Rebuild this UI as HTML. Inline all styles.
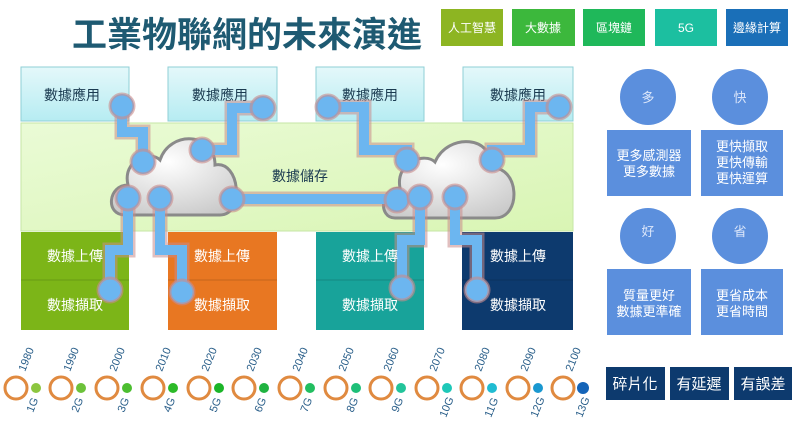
<!DOCTYPE html>
<html><head><meta charset="utf-8"><style>
body{margin:0;width:800px;height:429px;background:#fff;overflow:hidden;font-family:"Liberation Sans","Noto Sans CJK TC",sans-serif;}
</style></head><body>
<svg width="800" height="429" viewBox="0 0 800 429" xmlns="http://www.w3.org/2000/svg" style="position:absolute;left:0;top:0;font-family:'Liberation Sans','Noto Sans CJK TC',sans-serif">
<defs>
<linearGradient id="app" x1="0" y1="0" x2="0" y2="1"><stop offset="0" stop-color="#e4f8fa"/><stop offset="1" stop-color="#b6ecf2"/></linearGradient>
<linearGradient id="band" x1="0" y1="0" x2="1" y2="1"><stop offset="0" stop-color="#eafbd6"/><stop offset="1" stop-color="#d9f5b4"/></linearGradient>
<radialGradient id="cl" cx="0.45" cy="0.3" r="0.8"><stop offset="0" stop-color="#ffffff"/><stop offset="1" stop-color="#c8c8c8"/></radialGradient>
</defs>
<text x="72" y="47" font-size="35" font-weight="bold" fill="#1e5a72">工業物聯網的未來演進</text>
<g font-size="12" fill="#fff" text-anchor="middle">
<rect x="441" y="9" width="62" height="37" fill="#8db522"/><text x="472" y="32">人工智慧</text>
<rect x="512" y="9" width="63" height="37" fill="#3cb83c"/><text x="543" y="32">大數據</text>
<rect x="583" y="9" width="62" height="37" fill="#1fb85a"/><text x="614" y="32">區塊鏈</text>
<rect x="655" y="9" width="62" height="37" fill="#1cbfa0"/><text x="686" y="32">5G</text>
<rect x="726" y="9" width="62" height="37" fill="#1a6fb8"/><text x="757" y="32">邊緣計算</text>
</g>
<g stroke="#8fcfd6" stroke-width="1" fill="url(#app)">
<rect x="21" y="67" width="108" height="54"/><rect x="168" y="67" width="109" height="54"/>
<rect x="316" y="67" width="108" height="54"/><rect x="463" y="67" width="110" height="54"/>
</g>
<rect x="21" y="123" width="552" height="108" fill="url(#band)" stroke="#c6e6a6"/>
<rect x="21" y="232" width="108" height="98" fill="#7cb518"/>
<rect x="168" y="232" width="109" height="98" fill="#e87722"/>
<rect x="316" y="232" width="108" height="98" fill="#18a39a"/>
<rect x="462" y="232" width="111" height="98" fill="#0d3a6e"/>
<g stroke="rgba(0,0,0,0.15)"><line x1="21" y1="280" x2="129" y2="280"/><line x1="168" y1="280" x2="277" y2="280"/><line x1="316" y1="280" x2="424" y2="280"/><line x1="462" y1="280" x2="573" y2="280"/></g>
<g font-size="14" text-anchor="middle" fill="#1a3a50">
<text x="72" y="100">數據應用</text><text x="220" y="100">數據應用</text><text x="370" y="100">數據應用</text><text x="518" y="100">數據應用</text>
<text x="300" y="181">數據儲存</text>
</g>
<g fill="url(#cl)" stroke="#8a8a8a" stroke-width="3">
<path d="M125,215 C105,215 108,185 128,185 C122,160 150,150 160,160 C170,130 215,132 215,165 C240,160 245,215 220,215 Z"/>
<path d="M395,218 C378,218 380,188 400,188 C395,162 425,152 435,162 C448,132 495,136 490,168 C520,165 522,218 495,218 Z"/>
</g>
<g fill="none" stroke="#c98a8a" stroke-opacity="0.55" stroke-width="15" stroke-linejoin="miter">
<path d="M122,106 V132 H143 V162"/><path d="M263,108 H232 V150 H202"/>
<path d="M128,198 V250 H110 V290"/><path d="M160,198 V250 H182 V292"/>
<path d="M232,199 H397"/>
<path d="M328,107 H364 V150 H407 V160"/><path d="M559,107 H530 V150 H492 V160"/>
<path d="M420,197 V240 H402 V288"/><path d="M455,197 V240 H477 V290"/>
</g>
<g fill="none" stroke="#6cb6f0" stroke-width="10" stroke-linejoin="miter">
<path d="M122,106 V132 H143 V162"/><path d="M263,108 H232 V150 H202"/>
<path d="M128,198 V250 H110 V290"/><path d="M160,198 V250 H182 V292"/>
<path d="M232,199 H397"/>
<path d="M328,107 H364 V150 H407 V160"/><path d="M559,107 H530 V150 H492 V160"/>
<path d="M420,197 V240 H402 V288"/><path d="M455,197 V240 H477 V290"/>
</g>
<g fill="#6cb6f0" stroke="#c98a8a" stroke-opacity="0.6" stroke-width="3">
<circle cx="122" cy="106" r="12"/><circle cx="143" cy="162" r="12"/><circle cx="263" cy="108" r="12"/><circle cx="202" cy="150" r="12"/>
<circle cx="128" cy="198" r="12"/><circle cx="160" cy="198" r="12"/><circle cx="110" cy="290" r="12"/><circle cx="182" cy="292" r="12"/>
<circle cx="232" cy="199" r="12"/><circle cx="397" cy="200" r="12"/>
<circle cx="328" cy="107" r="12"/><circle cx="407" cy="160" r="12"/><circle cx="559" cy="107" r="12"/><circle cx="492" cy="160" r="12"/>
<circle cx="420" cy="197" r="12"/><circle cx="455" cy="197" r="12"/><circle cx="402" cy="288" r="12"/><circle cx="477" cy="290" r="12"/>
</g>
<g font-size="14" text-anchor="middle" fill="#fff">
<text x="75" y="261">數據上傳</text><text x="222" y="261">數據上傳</text><text x="370" y="261">數據上傳</text><text x="518" y="261">數據上傳</text>
<text x="75" y="310">數據擷取</text><text x="222" y="310">數據擷取</text><text x="370" y="310">數據擷取</text><text x="518" y="310">數據擷取</text>
</g>
<g id="tl"></g>
<g fill="#5b8fdd">
<circle cx="648" cy="97" r="28"/><circle cx="740" cy="97" r="28"/>
<rect x="607" y="130" width="84" height="66"/><rect x="701" y="130" width="82" height="66"/>
<circle cx="648" cy="236" r="28"/><circle cx="740" cy="236" r="28"/>
<rect x="607" y="269" width="84" height="66"/><rect x="701" y="269" width="82" height="66"/>
</g>
<g fill="#fff" font-size="13" text-anchor="middle">
<text x="648" y="102" fill="#dbe6fa">多</text><text x="740" y="102" fill="#dbe6fa">快</text>
<text x="648" y="236" fill="#dbe6fa">好</text><text x="740" y="236" fill="#dbe6fa">省</text>
<text x="649" y="160">更多感測器</text><text x="649" y="176">更多數據</text>
<text x="742" y="151">更快擷取</text><text x="742" y="167">更快傳輸</text><text x="742" y="183">更快運算</text>
<text x="649" y="300">質量更好</text><text x="649" y="316">數據更準確</text>
<text x="742" y="300">更省成本</text><text x="742" y="316">更省時間</text>
</g>
<g fill="#0d3a6e"><rect x="606" y="367" width="59" height="33"/><rect x="670" y="367" width="59" height="33"/><rect x="734" y="367" width="58" height="33"/></g>
<g fill="#fff" font-size="15" text-anchor="middle"><text x="635" y="389">碎片化</text><text x="699" y="389">有延遲</text><text x="763" y="389">有誤差</text></g>
<g fill="none" stroke="#e08a40" stroke-width="3">
<circle cx="16" cy="388" r="11"/><circle cx="61" cy="388" r="11"/><circle cx="107" cy="388" r="11"/><circle cx="153" cy="388" r="11"/><circle cx="199" cy="388" r="11"/><circle cx="244" cy="388" r="11"/><circle cx="290" cy="388" r="11"/><circle cx="336" cy="388" r="11"/><circle cx="381" cy="388" r="11"/><circle cx="427" cy="388" r="11"/><circle cx="472" cy="388" r="11"/><circle cx="518" cy="388" r="11"/><circle cx="563" cy="388" r="11"/>
</g>
<g>
<circle cx="36" cy="388" r="5" fill="#8cc63f"/><circle cx="81" cy="388" r="5" fill="#6cc23a"/><circle cx="127" cy="388" r="5" fill="#4cbe30"/><circle cx="173" cy="388" r="5" fill="#2cba28"/><circle cx="219" cy="388" r="5" fill="#1bb528"/><circle cx="264" cy="388" r="5" fill="#20b340"/><circle cx="310" cy="388" r="5" fill="#22be60"/><circle cx="356" cy="388" r="5" fill="#1ebf78"/><circle cx="401" cy="388" r="5" fill="#22c49a"/><circle cx="447" cy="388" r="5" fill="#1ec8b8"/><circle cx="492" cy="388" r="5" fill="#20bcd2"/><circle cx="538" cy="388" r="5" fill="#1a98d0"/><circle cx="583" cy="388" r="6" fill="#1464b8"/>
</g>
<g font-size="11" fill="#2a5f8a">
<text transform="translate(25,372) rotate(-68)">1980</text><text transform="translate(70,372) rotate(-68)">1990</text><text transform="translate(116,372) rotate(-68)">2000</text><text transform="translate(162,372) rotate(-68)">2010</text><text transform="translate(208,372) rotate(-68)">2020</text><text transform="translate(253,372) rotate(-68)">2030</text><text transform="translate(299,372) rotate(-68)">2040</text><text transform="translate(345,372) rotate(-68)">2050</text><text transform="translate(390,372) rotate(-68)">2060</text><text transform="translate(436,372) rotate(-68)">2070</text><text transform="translate(481,372) rotate(-68)">2080</text><text transform="translate(527,372) rotate(-68)">2090</text><text transform="translate(572,372) rotate(-68)">2100</text>
<text transform="translate(33,413) rotate(-68)">1G</text><text transform="translate(78,413) rotate(-68)">2G</text><text transform="translate(124,413) rotate(-68)">3G</text><text transform="translate(170,413) rotate(-68)">4G</text><text transform="translate(216,413) rotate(-68)">5G</text><text transform="translate(261,413) rotate(-68)">6G</text><text transform="translate(307,413) rotate(-68)">7G</text><text transform="translate(353,413) rotate(-68)">8G</text><text transform="translate(398,413) rotate(-68)">9G</text><text transform="translate(446,418) rotate(-68)">10G</text><text transform="translate(491,418) rotate(-68)">11G</text><text transform="translate(537,418) rotate(-68)">12G</text><text transform="translate(582,418) rotate(-68)">13G</text>
</g>
</svg>
</body></html>
